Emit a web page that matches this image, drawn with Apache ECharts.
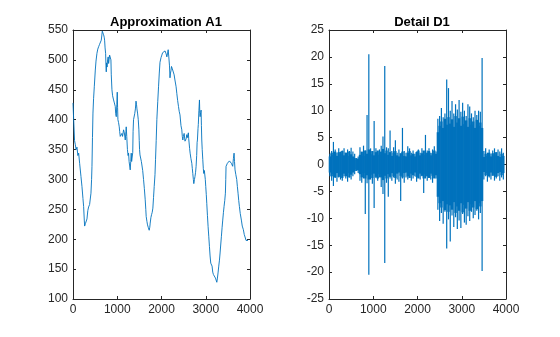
<!DOCTYPE html>
<html><head><meta charset="utf-8">
<script src="https://cdn.jsdelivr.net/npm/echarts@6/dist/echarts.min.js"></script>
<style>html,body{margin:0;padding:0;background:#fff}#c{width:560px;height:337px}</style>
</head><body><div id="c"></div>
<script>
const titles = ['Approximation A1', 'Detail D1'];
const xRange = [0, 4000];
const xInterval = 1000;
const a1Range = [100, 550];
const a1Interval = 50;
const d1Range = [-25, 25];
const d1Interval = 5;

// Approximation A1: [sample index, value]
const approxA1 = [[0,428],[15,400],[35,365],[53,358],[70,350],[90,354],[110,340],[128,344],[150,327],[180,305],[203,288],[225,268],[240,255],[255,232],[263,222],[280,226],[300,229],[316,234],[335,248],[353,254],[375,258],[406,277],[420,300],[429,322],[440,370],[451,411],[465,435],[481,455],[504,483],[520,498],[541,511],[560,518],[579,522],[600,526],[617,528],[639,533],[650,540],[662,548],[675,545],[692,542],[705,538],[714,533],[725,520],[737,511],[745,490],[752,480],[760,495],[770,488],[782,500],[795,505],[805,494],[815,500],[827,508],[840,505],[857,500],[865,475],[880,450],[895,440],[917,433],[935,428],[955,422],[965,410],[978,405],[990,425],[1000,446],[1008,420],[1015,400],[1030,395],[1045,388],[1055,380],[1068,372],[1085,370],[1105,377],[1120,372],[1143,383],[1160,378],[1181,366],[1195,380],[1203,388],[1215,372],[1230,350],[1245,340],[1256,344],[1268,330],[1278,333],[1293,316],[1305,330],[1316,344],[1325,330],[1338,333],[1350,345],[1358,380],[1368,400],[1380,402],[1395,410],[1410,418],[1424,431],[1436,425],[1445,418],[1459,411],[1475,400],[1489,383],[1497,365],[1504,350],[1514,341],[1534,338],[1545,330],[1557,327],[1575,315],[1594,300],[1612,285],[1632,266],[1645,250],[1654,238],[1670,230],[1684,224],[1700,220],[1722,215],[1735,220],[1745,227],[1760,236],[1775,241],[1790,245],[1805,252],[1820,270],[1835,288],[1853,308],[1865,333],[1880,365],[1895,400],[1915,430],[1933,455],[1950,478],[1966,496],[1990,504],[2008,508],[2025,512],[2041,515],[2060,510],[2080,515],[2091,517],[2105,510],[2121,505],[2135,510],[2151,517],[2165,505],[2181,490],[2192,470],[2203,478],[2215,482],[2226,489],[2245,485],[2268,486],[2286,475],[2300,468],[2316,466],[2330,455],[2346,444],[2365,432],[2384,422],[2400,414],[2418,408],[2440,390],[2459,383],[2470,372],[2482,366],[2495,372],[2512,377],[2531,364],[2542,361],[2557,368],[2572,375],[2585,370],[2607,378],[2615,368],[2624,361],[2635,352],[2647,344],[2665,335],[2685,327],[2697,318],[2707,310],[2720,300],[2730,293],[2745,300],[2757,305],[2770,312],[2782,322],[2795,340],[2805,362],[2812,366],[2825,385],[2832,392],[2845,415],[2858,433],[2866,410],[2873,405],[2885,412],[2895,416],[2902,390],[2910,366],[2920,350],[2933,333],[2945,318],[2955,310],[2968,315],[2978,313],[2990,300],[3000,288],[3012,275],[3023,260],[3038,240],[3053,221],[3068,205],[3083,188],[3098,172],[3113,160],[3128,158],[3143,155],[3158,145],[3173,141],[3188,138],[3204,138],[3219,135],[3234,132],[3250,128],[3264,135],[3280,145],[3294,155],[3310,165],[3324,177],[3340,192],[3354,205],[3370,220],[3384,232],[3400,245],[3414,255],[3430,265],[3444,277],[3452,300],[3459,322],[3475,325],[3489,327],[3505,328],[3519,330],[3535,331],[3549,330],[3565,328],[3579,327],[3595,325],[3609,322],[3625,335],[3640,344],[3650,330],[3662,316],[3680,308],[3700,300],[3715,288],[3730,277],[3745,265],[3760,255],[3780,243],[3805,232],[3825,222],[3850,216],[3870,208],[3895,202],[3910,198],[3925,196],[3940,199],[3955,198]];

// Detail D1, read for every 40-sample block:
// extremes (upper / lower) and the half-width of the dense core band
const d1Step = 40;
const d1Upper = [2.0,2.5,4.2,2.8,2.2,3.0,2.4,2.6,3.0,2.2,2.8,2.5,3.1,2.4,2.0,1.2,1.5,3.2,2.0,3.5,2.6,9.2,20.5,3.0,2.4,8.1,3.0,2.2,2.8,3.5,5.2,18.3,3.2,3.0,6.3,2.5,3.2,4.5,2.2,2.8,2.0,6.8,2.5,2.2,3.4,3.0,2.2,2.6,2.0,2.4,2.8,2.2,3.0,2.4,5.5,2.6,3.0,2.2,2.8,3.4,2.4,8.5,9.0,10.5,8.8,9.5,15.8,14.2,10.0,11.8,9.5,11.2,10.2,12.0,9.8,11.5,10.0,9.0,11.2,10.8,9.5,8.8,10.0,9.2,10.0,9.8,19.8,2.5,3.0,2.2,2.8,2.0,2.6,3.0,2.2,2.8,2.4,3.0,2.2];
const d1Lower = [-2.2,-3.0,-4.0,-2.5,-3.2,-2.4,-2.8,-3.0,-2.2,-2.6,-3.2,-2.4,-2.8,-2.2,-1.8,-1.2,-1.6,-3.0,-3.4,-2.6,-9.2,-3.5,-20.5,-2.8,-3.6,-8.1,-2.5,-3.0,-2.4,-4.2,-5.5,-18.3,-3.4,-6.0,-2.6,-3.0,-2.4,-3.6,-2.8,-3.2,-6.8,-2.6,-3.4,-2.4,-2.8,-2.2,-3.0,-2.6,-2.2,-3.2,-2.4,-2.8,-2.2,-5.3,-2.6,-3.0,-2.2,-2.8,-3.4,-2.4,-2.6,-8.4,-10.5,-9.0,-11.0,-8.8,-15.6,-10.2,-14.3,-9.5,-11.6,-9.8,-12.0,-10.4,-11.8,-9.2,-10.8,-11.2,-9.6,-10.5,-8.8,-10.0,-9.4,-8.6,-10.2,-9.0,-19.8,-2.8,-2.2,-3.2,-2.4,-2.8,-2.0,-3.0,-2.6,-2.2,-3.0,-2.4,-2.8];
const d1Core = [1.5,2.2,1.8,2.4,1.6,2.3,1.9,2.5,1.7,2.2,1.6,2.4,1.9,1.5,1.2,0.9,1.1,1.8,2.4,1.6,2.6,2.0,2.8,1.9,2.5,1.7,2.3,2.6,1.8,2.4,2.9,2.1,2.6,1.8,2.3,1.6,2.2,2.5,1.7,1.5,2.1,2.4,1.6,1.5,2.2,2.5,1.7,2.0,1.5,2.3,2.6,1.7,2.1,2.6,1.8,2.2,2.5,1.7,2.1,2.6,2.0,6.0,7.2,8.0,6.8,8.5,7.4,8.8,7.6,8.4,7.0,9.0,7.8,8.6,7.2,8.9,7.5,8.2,7.0,8.6,7.4,8.0,6.8,8.3,7.2,7.8,6.8,1.4,2.0,1.6,2.2,1.5,2.1,1.7,2.3,1.6,1.4,2.0,1.6];

const detailD1 = d1Upper.map((u, i) => [i * d1Step, u, d1Lower[i], d1Core[i]]);

const txt = '#262626';
const font = 'Liberation Sans, Arial, Helvetica, sans-serif';
const lineBlue = '#0072BD';

function xAxes(gi) {
  const base = {type:'value', gridIndex:gi, min:xRange[0], max:xRange[1], interval:xInterval,
    axisLine:{show:true, onZero:false, lineStyle:{color:txt, width:1}},
    axisTick:{show:true, inside:true, length:3, lineStyle:{color:txt}},
    splitLine:{show:false}};
  return [
    Object.assign({}, base, {position:'bottom', axisLabel:{show:true, color:txt, fontSize:12, fontFamily:font, margin:5, formatter:v => String(v)}}),
    Object.assign({}, base, {position:'top', axisLabel:{show:false}})
  ];
}
function yAxes(gi, r, iv) {
  const base = {type:'value', gridIndex:gi, min:r[0], max:r[1], interval:iv,
    axisLine:{show:true, onZero:false, lineStyle:{color:txt, width:1}},
    axisTick:{show:true, inside:true, length:3, lineStyle:{color:txt}},
    splitLine:{show:false}};
  return [
    Object.assign({}, base, {position:'left', axisLabel:{show:true, color:txt, fontSize:12, fontFamily:font, margin:5, formatter:v => String(v)}}),
    Object.assign({}, base, {position:'right', axisLabel:{show:false}})
  ];
}

const chart = echarts.init(document.getElementById('c'), null, {renderer:'canvas'});
chart.setOption({
  animation:false,
  backgroundColor:'#fff',
  title:[
    {text:titles[0], left:161, top:11, textAlign:'center', textStyle:{fontSize:13, fontWeight:'bold', color:'#000', fontFamily:font}},
    {text:titles[1], left:417, top:11, textAlign:'center', textStyle:{fontSize:13, fontWeight:'bold', color:'#000', fontFamily:font}}
  ],
  grid:[
    {left:73, top:30, width:177, height:269},
    {left:329, top:30, width:177, height:269}
  ],
  xAxis:[...xAxes(0), ...xAxes(1)],
  yAxis:[...yAxes(0, a1Range, a1Interval), ...yAxes(1, d1Range, d1Interval)],
  series:[
    {type:'line', xAxisIndex:0, yAxisIndex:0, data:approxA1, showSymbol:false, symbol:'none',
     lineStyle:{color:lineBlue, width:0.9}, silent:true},
    {type:'custom', xAxisIndex:2, yAxisIndex:2, data:detailD1, silent:true, progressive:0,
     encode:{x:0, y:[1,2]},
     renderItem:function(params, api){
       const x0 = api.value(0);
       const core = api.value(3);
       const tl = api.coord([x0, core]);
       const br = api.coord([x0 + d1Step, -core]);
       const cx = (tl[0] + br[0]) / 2;
       const top = api.coord([x0, api.value(1)]);
       const bot = api.coord([x0, api.value(2)]);
       return {type:'group', children:[
         {type:'rect', shape:{x:tl[0] - 0.3, y:tl[1], width:(br[0] - tl[0]) + 0.6, height:br[1] - tl[1]},
          style:{fill:lineBlue}},
         {type:'line', shape:{x1:cx, y1:top[1], x2:cx, y2:bot[1]},
          style:{stroke:lineBlue, lineWidth:1.2}}
       ]};
     }}
  ]
});
</script></body></html>
